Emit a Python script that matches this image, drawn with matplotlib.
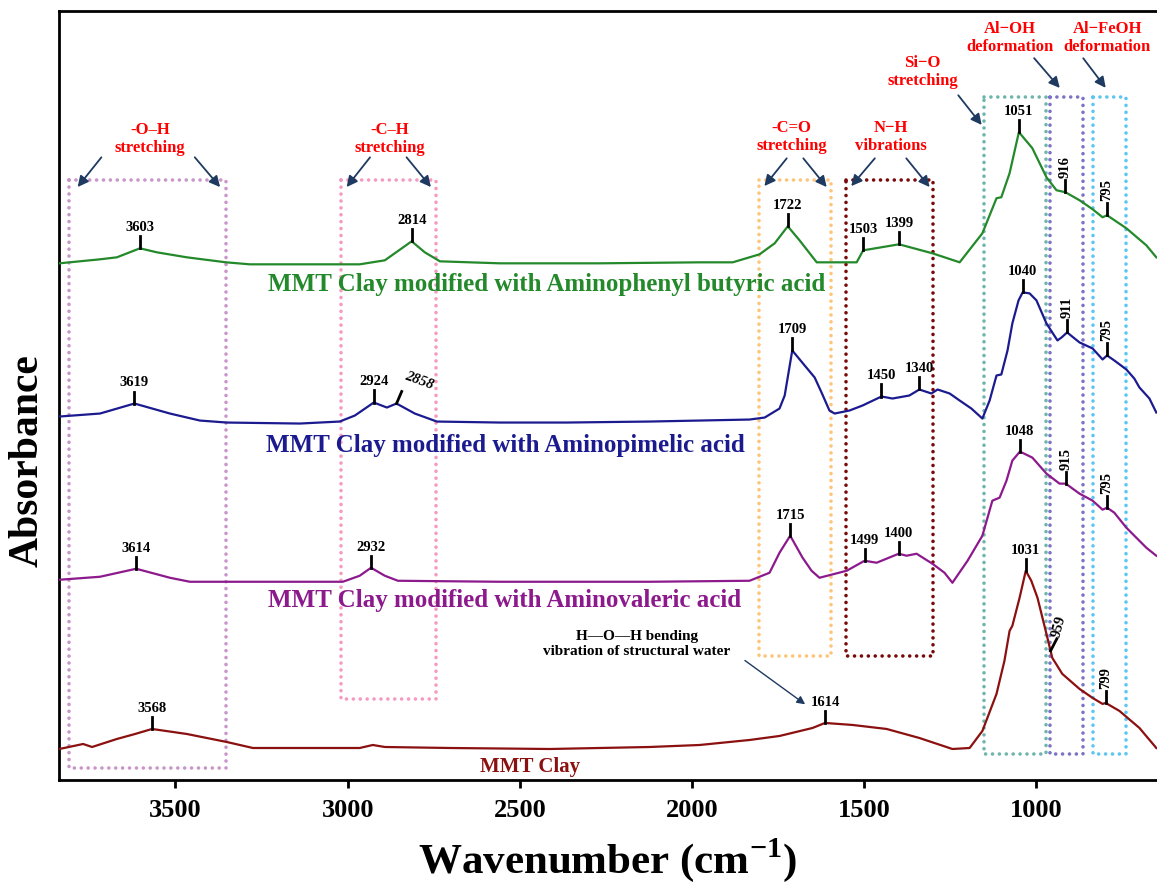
import numpy as np
import matplotlib
matplotlib.use("Agg")
import matplotlib.pyplot as plt

plt.rcParams['font.family'] = ['Liberation Serif', 'DejaVu Serif']
plt.rcParams['font.weight'] = 'bold'
plt.rcParams['mathtext.fontset'] = 'custom'
plt.rcParams['mathtext.rm'] = 'Liberation Serif:bold'
plt.rcParams['mathtext.bf'] = 'Liberation Serif:bold'

# FTIR spectra (wavenumber in cm-1, absorbance in a.u., already offset)
wn_apba = [3837, 3719, 3670, 3603, 3554, 3467, 3353, 3284, 2965, 2892, 2814, 2776, 2732, 2558,
           2268, 1978, 1882, 1804, 1760, 1722, 1688, 1638, 1522, 1503, 1485, 1399, 1302, 1223,
           1157, 1116, 1102, 1078, 1051, 1012, 971, 942, 916, 875, 837, 808, 795, 739, 681, 652]
ab_apba = [5.16, 5.20, 5.22, 5.31, 5.27, 5.22, 5.17, 5.15, 5.15, 5.19, 5.38, 5.27, 5.18, 5.16,
           5.16, 5.17, 5.17, 5.25, 5.36, 5.53, 5.39, 5.17, 5.17, 5.29, 5.30, 5.35, 5.26, 5.17,
           5.46, 5.81, 5.82, 6.06, 6.47, 6.31, 6.02, 5.89, 5.87, 5.79, 5.70, 5.62, 5.64, 5.51,
           5.34, 5.22]

wn_apa = [3837, 3719, 3619, 3516, 3429, 3351, 3139, 3023, 2979, 2924, 2886, 2858, 2805, 2741,
          2558, 2364, 2123, 1978, 1833, 1789, 1746, 1731, 1709, 1673, 1644, 1624, 1601, 1586,
          1543, 1505, 1450, 1418, 1369, 1340, 1305, 1287, 1252, 1223, 1189, 1157, 1136, 1116,
          1102, 1084, 1070, 1052, 1040, 1020, 1000, 971, 939, 927, 911, 875, 837, 808, 795,
          774, 739, 716, 701, 672, 652]
ab_apa = [3.63, 3.66, 3.76, 3.66, 3.59, 3.57, 3.56, 3.58, 3.64, 3.77, 3.72, 3.76, 3.66, 3.58,
          3.57, 3.57, 3.58, 3.59, 3.60, 3.62, 3.71, 3.84, 4.29, 4.14, 4.02, 3.87, 3.69, 3.66,
          3.69, 3.74, 3.83, 3.81, 3.84, 3.90, 3.86, 3.90, 3.86, 3.79, 3.71, 3.61, 3.79, 4.04,
          4.05, 4.29, 4.56, 4.79, 4.87, 4.86, 4.79, 4.56, 4.39, 4.42, 4.47, 4.37, 4.31, 4.20,
          4.24, 4.19, 4.10, 4.01, 3.92, 3.81, 3.67]

wn_ava = [3837, 3719, 3614, 3516, 3458, 3284, 3014, 2965, 2932, 2892, 2854, 2558, 2123, 1833,
          1775, 1746, 1715, 1679, 1653, 1630, 1551, 1499, 1464, 1400, 1377, 1348, 1302, 1267,
          1244, 1200, 1157, 1128, 1107, 1087, 1070, 1048, 1012, 971, 933, 915, 875, 837, 808,
          795, 774, 739, 681, 652]
ab_ava = [2.00, 2.03, 2.11, 2.02, 1.98, 1.98, 1.98, 2.04, 2.12, 2.04, 1.99, 1.98, 1.98, 1.99,
          2.07, 2.27, 2.44, 2.22, 2.09, 2.02, 2.09, 2.19, 2.17, 2.26, 2.24, 2.26, 2.16, 2.07,
          1.97, 2.19, 2.44, 2.79, 2.82, 2.99, 3.19, 3.28, 3.22, 3.06, 2.96, 2.96, 2.86, 2.79,
          2.70, 2.72, 2.67, 2.52, 2.32, 2.24]

wn_mmt = [3837, 3768, 3742, 3670, 3617, 3568, 3467, 3351, 3275, 3139, 2965, 2927, 2892, 2703,
          2413, 2123, 1978, 1833, 1746, 1650, 1614, 1534, 1435, 1340, 1244, 1194, 1157, 1116,
          1093, 1078, 1070, 1049, 1031, 1015, 997, 971, 959, 954, 925, 875, 837, 808, 799, 759,
          701, 652]
ab_mmt = [0.31, 0.36, 0.33, 0.41, 0.46, 0.51, 0.46, 0.38, 0.32, 0.32, 0.32, 0.35, 0.33, 0.32,
          0.31, 0.33, 0.35, 0.40, 0.44, 0.52, 0.57, 0.55, 0.51, 0.42, 0.31, 0.32, 0.49, 0.86,
          1.19, 1.49, 1.54, 1.82, 2.09, 1.99, 1.82, 1.46, 1.29, 1.22, 1.06, 0.91, 0.82, 0.76,
          0.77, 0.69, 0.52, 0.32]

# labelled peaks per spectrum: (wavenumber, rotation)
pk_apba = [(3603, 0), (2814, 0), (1722, 0), (1503, 0), (1399, 0), (1051, 0), (916, 90), (795, 90)]
pk_apa = [(3619, 0), (2924, 0), (2858, -20), (1709, 0), (1450, 0), (1340, 0), (1040, 0),
          (911, 90), (795, 90)]
pk_ava = [(3614, 0), (2932, 0), (1715, 0), (1499, 0), (1400, 0), (1048, 0), (915, 90), (795, 90)]
pk_mmt = [(3568, 0), (1614, 0), (1031, 0), (959, 75), (799, 90)]

spectra = [
    ("MMT Clay modified with Aminophenyl butyric acid", wn_apba, ab_apba, pk_apba, "#23892a", 2422, 4.95, 18),
    ("MMT Clay modified with Aminopimelic acid", wn_apa, ab_apa, pk_apa, "#1b1b8f", 2541, 3.34, 18),
    ("MMT Clay modified with Aminovaleric acid", wn_ava, ab_ava, pk_ava, "#8c1a8c", 2544, 1.79, 18),
    ("MMT Clay", wn_mmt, ab_mmt, pk_mmt, "#8b1010", 2471, 0.13, 15),
]

# dotted boxes around band regions: (w_left, w_right, top, bottom, colour)
boxes = [
    (3808, 3353, 5.99, 0.12, "#c896c8"),
    (3018, 2742, 5.99, 0.81, "#f59ac0"),
    (1806, 1596, 5.99, 1.24, "#fdc47a"),
    (1554, 1301, 5.99, 1.24, "#7a0a0a"),
    (1151, 972, 6.82, 0.26, "#6fb5ad"),
    (960, 864, 6.82, 0.26, "#7b74c6"),
    (837, 740, 6.82, 0.26, "#5cc6f2"),
]

# band assignments: text, text position, arrows (start, end)
bands = [
    ("-O\u2013H\nstretching", (3574, 6.40), [((3710, 6.24), (3789, 5.90)), ((3449, 6.24), (3365, 5.90))]),
    ("-C\u2013H\nstretching", (2878, 6.40), [((2930, 6.24), (3008, 5.90)), ((2834, 6.24), (2753, 5.90))]),
    ("-C=O\nstretching", (1711, 6.42), [((1720, 6.23), (1795, 5.91)), ((1682, 6.23), (1604, 5.90))]),
    ("N\u2212H\nvibrations", (1424, 6.42), [((1464, 6.23), (1543, 5.91)), ((1383, 6.23), (1305, 5.90))]),
    ("Si\u2212O\nstretching", (1331, 7.07), [((1232, 6.86), (1154, 6.52))]),
    ("Al\u2212OH\ndeformation", (1078, 7.41), [((1012, 7.23), (927, 6.89))]),
    ("Al\u2212FeOH\ndeformation", (794, 7.41), [((869, 7.23), (794, 6.89))]),
]

arrow_col = "#1f3a60"

fig = plt.figure(figsize=(11.57, 8.85), dpi=100)
ax = fig.add_axes([0.051, 0.1186, 0.949, 0.869])

for name, wn, ab, peaks, col, lx, ly, fs in spectra:
    wn = np.array(wn, dtype=float)
    ab = np.array(ab, dtype=float)
    ax.plot(wn, ab, color=col, lw=1.6, zorder=3)
    ax.text(lx, ly, name, color=col, fontsize=fs, fontweight='bold', ha='center', va='center')
    for w, rot in peaks:
        y = np.interp(w, wn[::-1], ab[::-1])
        if rot in (0, 90):
            ax.plot([w, w], [y, y + 0.12], color='black', lw=2, zorder=4)
            ax.text(w, y + 0.14, str(w), fontsize=10.5, ha='center', va='bottom', rotation=rot)
        elif rot < 0:
            # slanted tick where two peaks sit close together
            ax.plot([w, w - 15], [y, y + 0.12], color='black', lw=2, zorder=4)
            ax.text(w - 18, y + 0.12, str(w), fontsize=10.5, ha='left', va='bottom',
                    rotation=rot, style='italic')
        else:
            ax.plot([w, w - 18], [y, y + 0.12], color='black', lw=2, zorder=4)
            ax.text(w - 24, y + 0.12, str(w), fontsize=10.5, ha='center', va='bottom',
                    rotation=rot)

for wl, wr, top, bot, col in boxes:
    ax.plot([wl, wr, wr, wl, wl], [top, top, bot, bot, top], color=col, lw=2.6,
            linestyle=(0, (0.01, 1.9)), dash_capstyle='round', zorder=2)

for txt, (tx, ty), arrows in bands:
    ax.text(tx, ty, txt, color='red', fontsize=12, fontweight='bold', ha='center', va='center',
            linespacing=1.15)
    for start, end in arrows:
        ax.annotate('', xy=end, xytext=start,
                    arrowprops=dict(arrowstyle='-|>', color=arrow_col, lw=1.3, mutation_scale=16))

ax.text(2161, 1.36, "H\u2014O\u2014H bending\nvibration of structural water", color='black',
        fontsize=11, fontweight='bold', ha='center', va='center', linespacing=1.15)
ax.annotate('', xy=(1665, 0.74), xytext=(1853, 1.21),
            arrowprops=dict(arrowstyle='-|>', color=arrow_col, lw=1.0, mutation_scale=12))

ax.set_xlim(3838, 650)
ax.set_ylim(0, 7.68)
ax.set_xticks([3500, 3000, 2500, 2000, 1500, 1000])
ax.set_yticks([])
ax.tick_params(axis='x', direction='out', length=6, width=2, labelsize=19, pad=8)
for lab in ax.get_xticklabels():
    lab.set_fontweight('bold')
ax.spines['right'].set_visible(False)
for s in ['left', 'top', 'bottom']:
    ax.spines[s].set_linewidth(2)

ax.set_xlabel("Wavenumber (cm$^{-1}$)", fontsize=31, fontweight='bold', labelpad=10)
fig.text(0.024, 0.480, "Absorbance", fontsize=30, fontweight='bold', rotation=90,
         ha='center', va='center')

fig.savefig("out.png", dpi=100)
